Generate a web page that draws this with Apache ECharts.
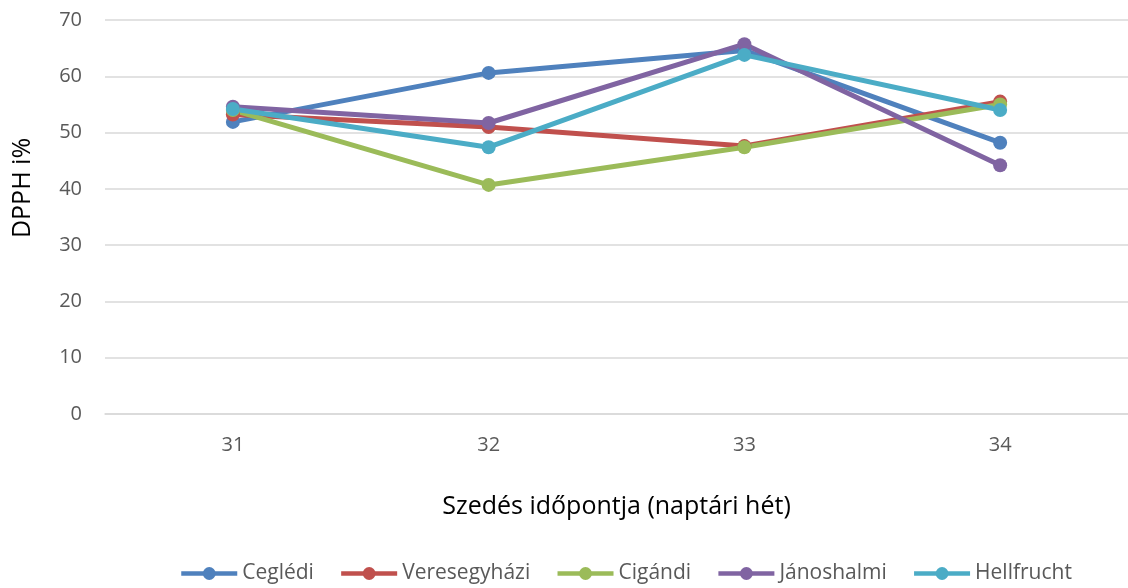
<!DOCTYPE html>
<html><head><meta charset="utf-8">
<script src="https://cdn.jsdelivr.net/npm/echarts@6/dist/echarts.min.js"></script>
<style>html,body{margin:0;padding:0;background:#fff}#c{width:1128px;height:588px}</style>
</head><body><div id="c"></div>
<script>
const categories = ['31','32','33','34'];
const seriesNames = ['Ceglédi','Veresegyházi','Cigándi','Jánoshalmi','Hellfrucht'];
const cegledi = [51.9, 60.6, 64.6, 48.2];
const veresegyhazi = [53.2, 51.0, 47.6, 55.5];
const cigandi = [54.0, 40.7, 47.4, 55.0];
const janoshalmi = [54.6, 51.7, 65.7, 44.2];
const hellfrucht = [54.2, 47.4, 63.8, 54.0];
const colors = ['#4f81bd','#c0504d','#9bbb59','#8064a2','#4bacc6'];
const values = [cegledi, veresegyhazi, cigandi, janoshalmi, hellfrucht];
const font = '"Open Sans", "Noto Sans", sans-serif';
const chart = echarts.init(document.getElementById('c'));
chart.setOption({
  animation: false,
  textStyle: {fontFamily: font},
  color: colors,
  grid: {left: 105, right: 0, top: 20, bottom: 174, containLabel: false},
  legend: {
    top: 558, left: 174, itemWidth: 56, itemHeight: 16, itemGap: 25,
    lineStyle: {width: 4.5},
    textStyle: {fontFamily: font, fontSize: 21, color: '#595959'},
    data: seriesNames
  },
  xAxis: {
    type: 'category', data: categories, boundaryGap: true,
    name: 'Szedés időpontja (naptári hét)', nameLocation: 'middle', nameGap: 80,
    nameTextStyle: {fontFamily: font, fontSize: 25, color: '#000'},
    axisLine: {show: true, lineStyle: {color: '#d9d9d9', width: 1.5}},
    axisTick: {show: false},
    axisLabel: {fontFamily: font, fontSize: 20, color: '#595959', margin: 21}
  },
  yAxis: {
    type: 'value', min: 0, max: 70, interval: 10,
    name: 'DPPH i%', nameLocation: 'middle', nameGap: 70, nameRotate: 90,
    nameTextStyle: {fontFamily: font, fontSize: 25, color: '#000', padding: [0, 0, 0, 58]},
    axisLine: {show: false}, axisTick: {show: false},
    axisLabel: {fontFamily: font, fontSize: 20, color: '#595959', margin: 23},
    splitLine: {lineStyle: {color: '#d9d9d9', width: 1.5}}
  },
  series: seriesNames.map((n, i) => ({
    name: n, type: 'line', data: values[i],
    symbol: 'circle', symbolSize: 14, showAllSymbol: true,
    lineStyle: {width: 5, color: colors[i]},
    itemStyle: {color: colors[i]}
  }))
});
</script></body></html>
